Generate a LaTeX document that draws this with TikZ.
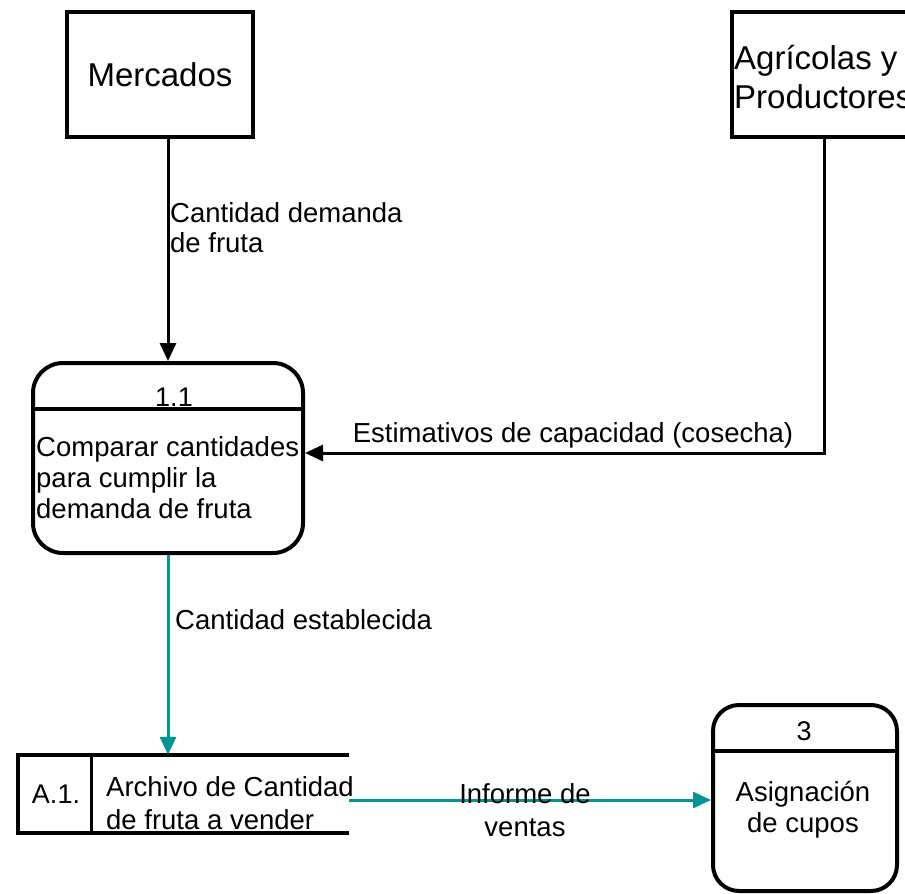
\documentclass[tikz,border=0pt]{standalone}
\usepackage{fontspec}
\setmainfont{Liberation Sans}
\usetikzlibrary{arrows.meta,calc}
\definecolor{tealflow}{RGB}{0,150,150}
\begin{document}
\begin{tikzpicture}[x=1pt,y=-1pt,
  extbox/.style={draw, line width=4pt, inner sep=0pt},
  procbox/.style={draw, line width=4pt, inner sep=0pt},
  flow/.style={line width=3pt, -{Triangle[length=18pt,width=16pt]}},
  lbl/.style={font=\fontsize{27.5}{31}\selectfont, align=left, inner sep=0pt},
  idtxt/.style={font=\fontsize{27}{30}\selectfont, inner sep=0pt}]
\useasboundingbox (0,0) rectangle (905,894);
\clip (0,0) rectangle (905,894);
% external entities
\node[extbox, minimum width=186pt, minimum height=125pt, font=\fontsize{33}{38}\selectfont] (merc) at (160,74.5) {Mercados};
\node[extbox, minimum width=240pt, minimum height=125pt, anchor=west] (agr) at (730,74.5) {};
\node[anchor=west, align=left, inner sep=0pt, font=\fontsize{33}{39}\selectfont] (agrtxt) at (734,77) {Agrícolas y\\Productores};
% process 1.1
\node[procbox, rounded corners=30pt, minimum width=270pt, minimum height=190pt] (p1) at (168,458) {};
\draw[line width=3.5pt] ($(p1.north west)+(0,48)$) -- ($(p1.north east)+(0,48)$);
\node[idtxt] (p1id) at (174,397) {1.1};
\node[lbl, anchor=west] (p1txt) at (36,478) {Comparar cantidades\\para cumplir la\\demanda de fruta};
% process 3
\node[procbox, rounded corners=26pt, minimum width=184pt, minimum height=186pt] (p3) at (805,798) {};
\draw[line width=3.5pt] ($(p3.north west)+(0,48)$) -- ($(p3.north east)+(0,48)$);
\node[idtxt] (p3id) at (804,731) {3};
\node[lbl, align=center] (p3txt) at (803,810) {Asignación\\de cupos};
% data store
\node[minimum width=331pt, minimum height=78pt, inner sep=0pt] (st) at (183.5,794) {};
\draw[line width=3.5pt] (st.north east) -- (st.north west) -- (st.south west) -- (st.south east);
\draw[line width=3pt] ($(st.north west)+(74,0)$) -- ($(st.south west)+(74,0)$);
\node[idtxt] (stid) at (56,794) {A.1.};
\node[lbl, anchor=west, font=\fontsize{27.5}{33}\selectfont] (sttxt) at (106,803) {Archivo de Cantidad\\de fruta a vender};
% flows
\coordinate (c1) at (824,453);
\coordinate (c2) at ($(st.east)+(0,6)$);
\draw[flow] (merc.south -| p1.north) -- (p1.north);
\draw[flow, tealflow] (p1.south) -- (st.north -| p1.south);
\draw[flow] (agr.south -| c1) -- (c1) -- (c1 -| p1.east);
\draw[flow, tealflow] (c2) -- (c2 -| p3.west);
% flow labels
\node[lbl, anchor=west, font=\fontsize{27.5}{30}\selectfont] (l1) at (170,228) {Cantidad demanda\\de fruta};
\node[lbl] (l2) at (573,435) {Estimativos de capacidad (cosecha)};
\node[lbl, anchor=west] (l3) at (175,620) {Cantidad establecida};
\node[lbl, align=center, font=\fontsize{27.5}{33}\selectfont] (l4) at (525,810) {Informe de\\ventas};
\end{tikzpicture}
\end{document}
